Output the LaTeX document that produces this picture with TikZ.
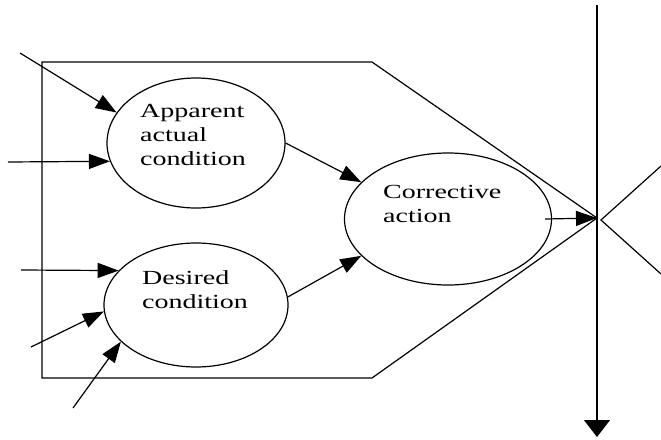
\documentclass[tikz,border=0pt]{standalone}
\usepackage{fontspec}
\setmainfont{Liberation Serif}[FakeStretch=1.4]
\usetikzlibrary{arrows.meta,shapes.geometric}

\tikzset{
  cond/.style={draw, ellipse, line width=1.2pt, inner sep=0pt},
  lbl/.style={anchor=base west, align=left, inner sep=0pt, font=\fontsize{20}{24}\selectfont},
  flow/.style={line width=1.2pt, -{Triangle[length=21pt,width=15pt]}},
}

\begin{document}
\begin{tikzpicture}[x=1pt,y=-1pt]
\useasboundingbox (0,0) rectangle (661,439);
\node[cond, minimum width=178pt, minimum height=130pt](app) at (196,143) {};
\node[cond, minimum width=184pt, minimum height=124pt](des) at (196,305) {};
\node[cond, minimum width=207pt, minimum height=132pt](cor) at (448,219) {};
\node[lbl](applbl) at (140,165) {Apparent\\actual\\condition};
\node[lbl](deslbl) at (142,308) {Desired\\condition};
\node[lbl](corlbl) at (383,222) {Corrective\\action};
\coordinate(tip) at (597,218);
\coordinate(top) at (597,5);
\coordinate(bot) at (597,437);
\coordinate(i1) at (20,53);
\coordinate(i2) at (8,162);
\coordinate(i3) at (21,270);
\coordinate(i4) at (31,347);
\coordinate(i5) at (73,408);
\coordinate(x1) at (601,220);
\coordinate(x2) at (661,166);
\coordinate(x3) at (661,274);
\draw[line width=1.2pt] (42,62) -- (372,62) -- (tip) -- (372,378) -- (42,378) -- cycle;
\draw[line width=1.2pt, -{Triangle[length=17pt,width=26pt]}] (top) -- (bot);
\draw[line width=1.2pt] (x2) -- (x1) -- (x3);
\draw[flow] (i1) -- (app.159);
\draw[flow] (i2) -- (app.192);
\draw[flow] (i3) -- (des.156);
\draw[flow] (i4) -- (des.184);
\draw[flow] (i5) -- (des.206);
\draw[flow] (app.east) -- (cor.157);
\draw[flow] (des.5) -- (cor.203);
\draw[flow] ([xshift=-7pt]cor.east) -- (tip);
\end{tikzpicture}
\end{document}
